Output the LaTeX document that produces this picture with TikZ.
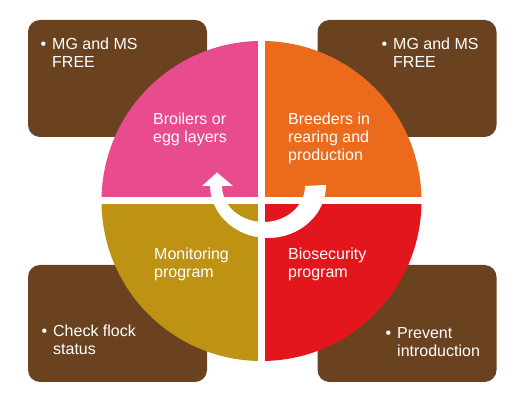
\documentclass[tikz,border=0pt]{standalone}
\usepackage{fontspec}
\setmainfont{Liberation Sans}
\usetikzlibrary{positioning}
\definecolor{qpink}{HTML}{E84C8E}
\definecolor{qorange}{HTML}{EB6A1C}
\definecolor{qred}{HTML}{E3161E}
\definecolor{qgold}{HTML}{BE9212}
\definecolor{boxbrown}{HTML}{6B4220}
\newcommand{\bul}{\llap{\textbullet\hspace{6pt}}}
\tikzset{
  box/.style={rectangle, rounded corners=12pt, fill=boxbrown, minimum width=179pt, minimum height=117pt, inner sep=0pt},
  txt/.style={text=white, font=\fontsize{16}{18}\selectfont, align=left, inner sep=0pt, anchor=base west},
  gap/.style={white, line width=7pt}
}
\begin{document}
\begin{tikzpicture}[x=1pt,y=1pt]
  \useasboundingbox[fill=white] (0,0) rectangle (516,409);
  % brown boxes behind the wheel
  \node[box] (BoxTL) at (117.5,330.5) {};
  \node[box] (BoxTR) at (407,330.5) {};
  \node[box] (BoxBL) at (117.5,85.5) {};
  \node[box] (BoxBR) at (407,85.5) {};
  % the wheel
  \coordinate (C) at (261.5,208);
  \fill[qpink] (C) -- ++(180:160) arc (180:90:160) -- cycle;
  \fill[qorange] (C) -- ++(90:160) arc (90:0:160) -- cycle;
  \fill[qred] (C) -- ++(0:160) arc (0:-90:160) -- cycle;
  \fill[qgold] (C) -- ++(-90:160) arc (-90:-180:160) -- cycle;
  \draw[gap] (C) ++(0,162) -- ++(0,-324);
  \draw[gap] (C) ++(-162,0) -- ++(324,0);
  % turning arrow
  \fill[white] (326,224) arc[start angle=0, end angle=-180, x radius=58, y radius=53]
    -- (210,223) -- (202,223) -- (217,236.5) -- (233,223) -- (222,223)
    arc[start angle=180, end angle=360, x radius=41.5, y radius=36] -- cycle;
  % wheel texts (anchored at the last line)
  \node[txt] (Broil) at (153,266.3) {Broilers or\\egg layers};
  \node[txt] (Breed) at (288,248.3) {Breeders in\\rearing and\\production};
  \node[txt] (Monit) at (154,131.7) {Monitoring\\program};
  \node[txt] (Biosec) at (288,131.7) {Biosecurity\\program};
  % box texts
  \node[txt] (FreeTL) at (52,341.5) {\bul MG and MS\\FREE};
  \node[txt] (FreeTR) at (393,341.3) {\bul MG and MS\\FREE};
  \node[txt] (Check) at (53,54) {\bul Check flock\\status};
  \node[txt] (Prevent) at (397,52) {\bul Prevent\\introduction};
\end{tikzpicture}
\end{document}
